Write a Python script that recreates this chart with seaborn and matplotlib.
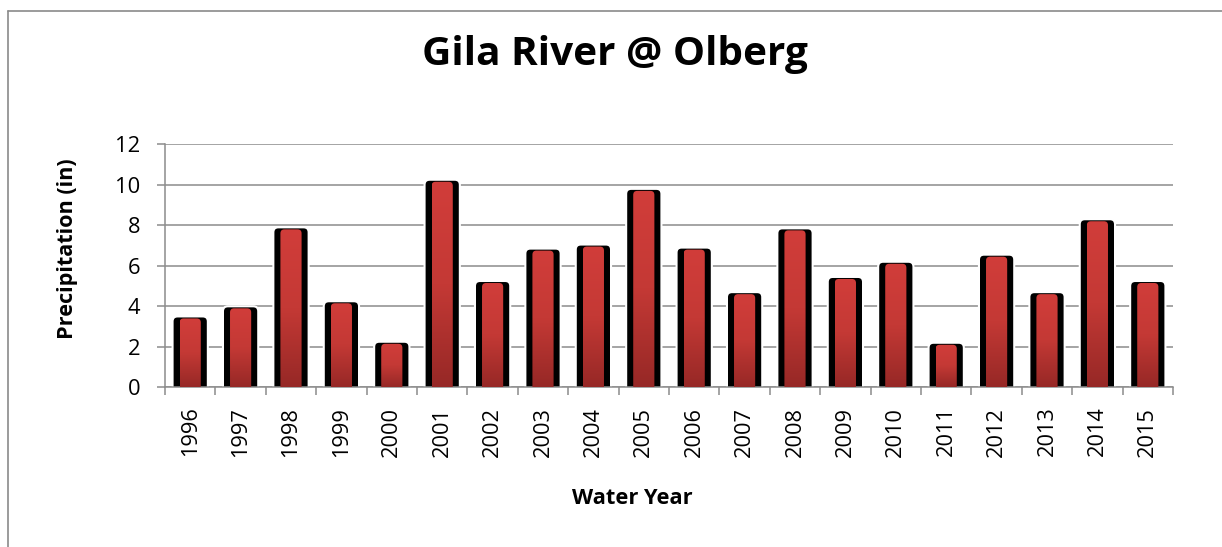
import numpy as np
import pandas as pd
import matplotlib
matplotlib.use("Agg")
import matplotlib.pyplot as plt
import seaborn as sns
from matplotlib.patches import FancyBboxPatch
from matplotlib.lines import Line2D
from matplotlib.colors import LinearSegmentedColormap

# ---- data ----
years = ["1996", "1997", "1998", "1999", "2000", "2001", "2002", "2003", "2004", "2005",
         "2006", "2007", "2008", "2009", "2010", "2011", "2012", "2013", "2014", "2015"]
precip = [3.5, 4.0, 7.9, 4.25, 2.25, 10.25, 5.25, 6.85, 7.05, 9.8,
          6.9, 4.7, 7.85, 5.45, 6.2, 2.2, 6.55, 4.7, 8.3, 5.25]
y_ticks = [0, 2, 4, 6, 8, 10, 12]
title_text = "Gila River @ Olberg"
x_label = "Water Year"
y_label = "Precipitation (in)"

df = pd.DataFrame({"year": years, "precip": precip})

sns.set_style("white")
plt.rcParams["font.family"] = ["Open Sans", "DejaVu Sans"]
plt.rcParams["text.color"] = "black"
plt.rcParams["axes.labelcolor"] = "black"

W, H = 1222, 547
fig = plt.figure(figsize=(W / 100, H / 100), dpi=100)
ax_l, ax_r, ax_t, ax_b = 165, 1173, 144.3, 387.3
ax = fig.add_axes([ax_l / W, 1 - ax_b / H, (ax_r - ax_l) / W, (ax_b - ax_t) / H])

grid_col = "#8c8c8c"

sns.barplot(data=df, x="year", y="precip", color="black", width=0.70,
            saturation=1, ax=ax, zorder=2)
n_black = len(ax.patches)
sns.barplot(data=df, x="year", y="precip", color="#c0392b", width=0.42,
            saturation=1, ax=ax, zorder=3)

px_x = (ax_r - ax_l) / 20.0
px_y = (ax_b - ax_t) / 12.0
r_px = 5.0
rx = r_px / px_x
aspect = (r_px / px_y) / rx

cmap = LinearSegmentedColormap.from_list("redgrad", ["#d13d3a", "#c43935", "#962826"])
grad = np.linspace(0, 1, 256).reshape(-1, 1)

patches = list(ax.patches)
for i, p in enumerate(patches):
    x, w, h = p.get_x(), p.get_width(), p.get_height()
    p.remove()
    if i < n_black:
        fb = FancyBboxPatch((x, -0.6), w, h + 0.6,
                            boxstyle=f"round,pad=0,rounding_size={rx}",
                            mutation_aspect=aspect, facecolor="black",
                            edgecolor="white", linewidth=1.5, zorder=2)
        ax.add_patch(fb)
    else:
        top = h - 0.1
        fb = FancyBboxPatch((x, -0.6), w, top + 0.6,
                            boxstyle=f"round,pad=0,rounding_size={rx * 0.8}",
                            mutation_aspect=aspect, facecolor="none",
                            edgecolor="none", linewidth=0, zorder=3)
        ax.add_patch(fb)
        im = ax.imshow(grad, extent=[x, x + w, 0, top], aspect="auto",
                       cmap=cmap, origin="upper", zorder=3, interpolation="bilinear")
        im.set_clip_path(fb)

ax.set_xlim(-0.5, len(years) - 0.5)
ax.set_ylim(0, 12)
ax.set_aspect("auto")

ax.set_yticks(y_ticks)
ax.set_xticks(np.arange(len(years) + 1) - 0.5, minor=True)
ax.tick_params(axis="y", which="major", left=True, length=5.8, width=1.1, color=grid_col,
               pad=12, labelsize=15.5, labelcolor="black")
ax.tick_params(axis="x", which="major", bottom=False, length=0, pad=14,
               labelsize=15.5, labelcolor="black", labelrotation=90)
ax.tick_params(axis="x", which="minor", bottom=True, length=5.8, width=1.1, color=grid_col)

for s in ["top", "right"]:
    ax.spines[s].set_visible(False)
for s in ["left", "bottom"]:
    ax.spines[s].set_color(grid_col)
    ax.spines[s].set_linewidth(1.1)

ax.yaxis.grid(True, color=grid_col, linewidth=1.1)
ax.xaxis.grid(False)
ax.set_axisbelow(True)

ax.set_xlabel(x_label, fontsize=15, fontweight="bold", va="center", color="black")
ax.xaxis.set_label_coords((632.5 - ax_l) / (ax_r - ax_l), (ax_b - 498) / (ax_b - ax_t))
ax.set_ylabel(y_label, fontsize=15, fontweight="bold", va="center", color="black")
ax.yaxis.set_label_coords((67 - ax_l) / (ax_r - ax_l), (ax_b - 248.5) / (ax_b - ax_t))
ttl = ax.set_title(title_text, fontsize=26, fontweight="bold", va="center", color="black",
                   x=(615 - ax_l) / (ax_r - ax_l), y=(ax_b - 63) / (ax_b - ax_t))

# fit text sizes to the pixel extents measured on the reference
fig.canvas.draw()
renderer = fig.canvas.get_renderer()


def fit(texts, target, dim):
    for _ in range(3):
        sizes = []
        for t in texts:
            bb = t.get_window_extent(renderer)
            cur = bb.width if dim == "w" else bb.height
            sizes.append(t.get_fontsize() * target / cur)
        s = float(np.median(sizes))
        for t in texts:
            t.set_fontsize(s)
        fig.canvas.draw()


fit([ttl], 386, "w")
fit([ax.xaxis.label], 121, "w")
fit([ax.yaxis.label], 181, "h")
fit(ax.get_xticklabels(), 50, "h")
ylbls = [t for t in ax.get_yticklabels() if t.get_text() in ("10", "12")]
fit(ylbls, 25, "w")
for t in ax.get_yticklabels():
    t.set_fontsize(ylbls[0].get_fontsize())

frame_col = "#8a8a8a"
fig.add_artist(Line2D([8 / W, 1.0], [1 - 10.5 / H] * 2, transform=fig.transFigure,
                      color=frame_col, linewidth=1.2))
fig.add_artist(Line2D([8 / W] * 2, [0.0, 1 - 10.5 / H], transform=fig.transFigure,
                      color=frame_col, linewidth=1.2))

fig.savefig("out.png", dpi=100)
